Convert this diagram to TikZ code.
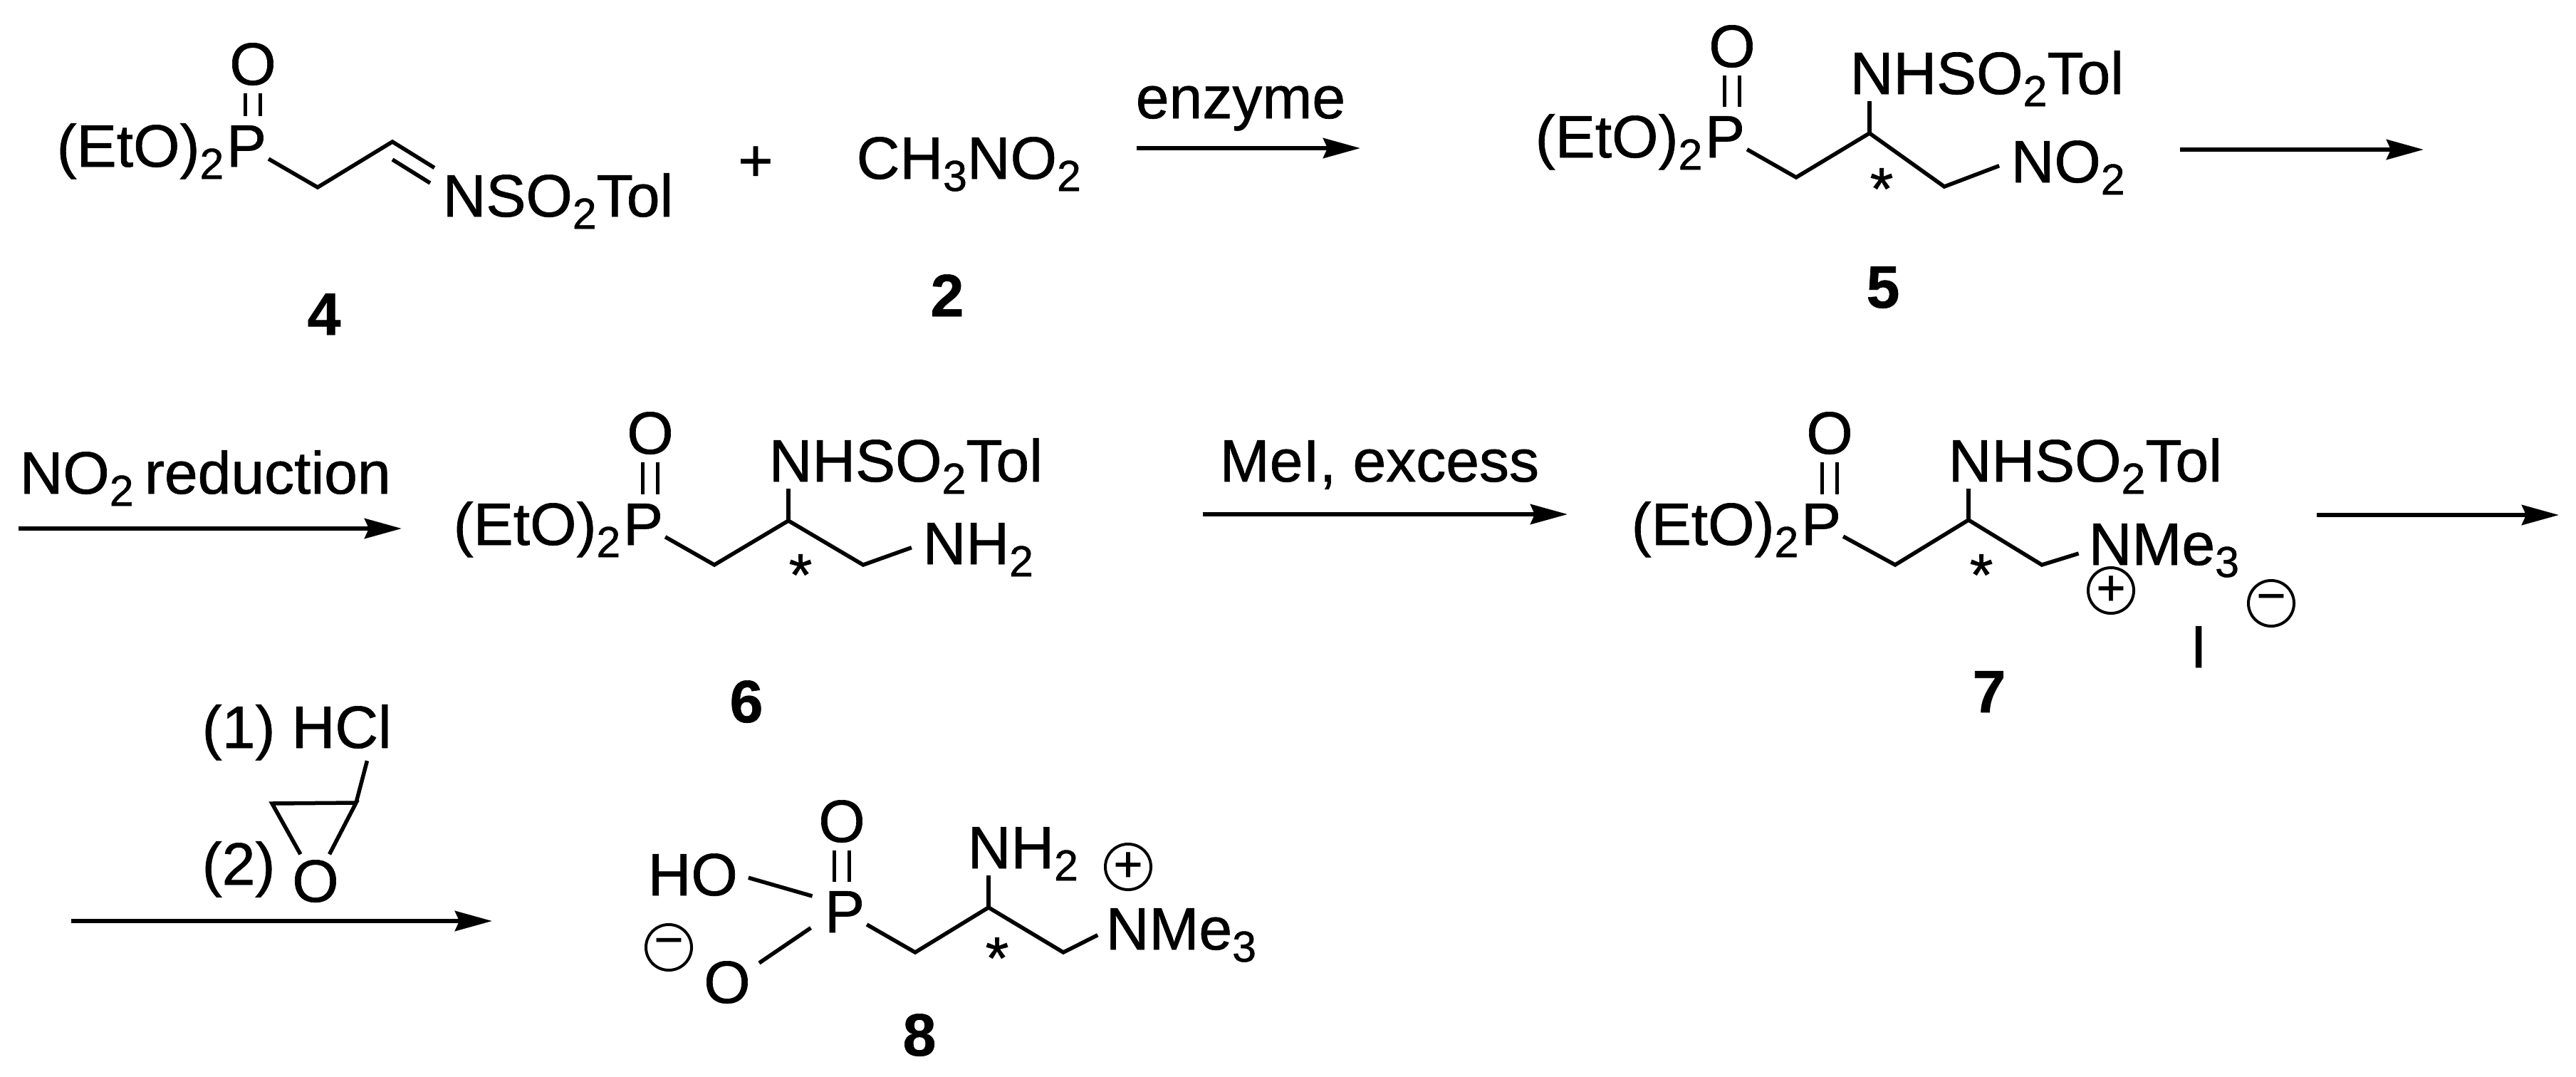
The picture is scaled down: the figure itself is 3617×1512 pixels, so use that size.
\documentclass[tikz,border=0pt]{standalone}
\usepackage{fontspec}
\setmainfont[FakeBold=0.8]{Liberation Sans}
\usetikzlibrary{arrows.meta}
\newcommand{\sbn}[1]{\raisebox{-.17cm}{\fontsize{17.3}{17.3}\selectfont #1}}
\tikzset{
	every node/.style={inner sep=0pt, font=\fontsize{23.9}{28}\selectfont},
	lab/.style={anchor=base west},
	labr/.style={anchor=base east},
	ctr/.style={anchor=base},
	num/.style={anchor=base, font=\fontsize{23.9}{28}\selectfont\bfseries},
	patom/.style={anchor=base west, outer sep=.03cm},
	bond/.style={line width=.055cm},
	dbl/.style={line width=.05cm, double, double distance=.16cm, shorten >=.1cm, shorten <=.1cm},
	rxn/.style={line width=.06cm, -{Stealth[length=.52cm,width=.28cm,inset=.06cm]}},
	chg/.style={draw, circle, line width=.04cm, minimum size=.64cm, font=\fontsize{20}{20}\selectfont}
}
\begin{document}
\begin{tikzpicture}[x=.01cm, y=-.01cm]
	\useasboundingbox (0,0) rectangle (3617,1512);

	\draw (315,234) node[patom] (P4) {P};
	\draw (355,119) node[ctr] (O4) {O};
	\draw (P4.base west) node[labr] (Et4) {(EtO)\sbn{2}};
	\draw (621,304) node[lab] (NS4) {NSO\sbn{2}Tol};
	\draw (446,263) coordinate (c41);
	\draw (551,199) coordinate (c42);
	\draw (551,224) coordinate (c43);
	\draw (604,257) coordinate (c44);
	\draw[dbl] (O4.south) -- (P4.north -| O4.south);
	\draw[bond, shorten >=.13cm] (P4) -- (c41) -- (c42) -- (NS4.north west);
	\draw[bond] (c43) -- (c44);
	\draw (455,470) node[num] (n4) {4};

	\draw (1061,230) node (plus1) {+};
	\draw (1202,251) node[lab] (CH2) {CH\sbn{3}NO\sbn{2}};
	\draw (1330,444) node[num] (n2) {2};

	\draw (1596,208) coordinate (a1s);
	\draw (1910,208) coordinate (a1e);
	\draw[rxn] (a1s) -- (a1e);
	\draw (1742,166) node[ctr] (enz) {enzyme};

	\draw (2391,221) node[patom] (P5) {P};
	\draw (2432,94) node[ctr] (O5) {O};
	\draw (P5.base west) node[labr] (Et5) {(EtO)\sbn{2}};
	\draw (2597,132) node[lab] (NH5) {NHSO\sbn{2}Tol};
	\draw (2823,256) node[lab] (NO5) {NO\sbn{2}};
	\draw (2522,249) coordinate (c51);
	\draw (2625,187) coordinate (c52);
	\draw (2730,262) coordinate (c53);
	\draw[dbl] (O5.south) -- (P5.north -| O5.south);
	\draw[bond, shorten >=.17cm] (P5) -- (c51) -- (c52) -- (c53) -- (NO5.174);
	\draw[bond, shorten >=.1cm] (c52) -- (c52 |- NH5.base);
	\draw (2642,294) node[ctr] (st5) {*};
	\draw (2644,432) node[num] (n5) {5};

	\draw (3061,210) coordinate (a2s);
	\draw (3403,210) coordinate (a2e);
	\draw[rxn] (a2s) -- (a2e);

	\draw (26,742) coordinate (a3s);
	\draw (564,742) coordinate (a3e);
	\draw[rxn] (a3s) -- (a3e);
	\draw (27,693) node[lab] (red) {NO\sbn{2}\hspace{-.08cm} reduction};

	\draw (872,765) node[patom] (P6) {P};
	\draw (913,637) node[ctr] (O6) {O};
	\draw (P6.base west) node[labr] (Et6) {(EtO)\sbn{2}};
	\draw (1079,676) node[lab] (NH6) {NHSO\sbn{2}Tol};
	\draw (1295,792) node[lab] (NA6) {NH\sbn{2}};
	\draw (1003,793) coordinate (c61);
	\draw (1107,731) coordinate (c62);
	\draw (1212,793) coordinate (c63);
	\draw[dbl] (O6.south) -- (P6.north -| O6.south);
	\draw[bond, shorten >=.16cm] (P6) -- (c61) -- (c62) -- (c63) -- (NA6.174);
	\draw[bond, shorten >=.1cm] (c62) -- (c62 |- NH6.base);
	\draw (1124,836) node[ctr] (st6) {*};
	\draw (1048,1014) node[num] (n6) {6};

	\draw (1689,722) coordinate (a4s);
	\draw (2201,722) coordinate (a4e);
	\draw[rxn] (a4s) -- (a4e);
	\draw (1712,676) node[lab] (mei) {MeI, excess};

	\draw (2526,765) node[patom] (P7) {P};
	\draw (2569,637) node[ctr] (O7) {O};
	\draw (P7.base west) node[labr] (Et7) {(EtO)\sbn{2}};
	\draw (2735,676) node[lab] (NH7) {NHSO\sbn{2}Tol};
	\draw (2932,793) node[lab] (NM7) {NMe\sbn{3}};
	\draw (2661,793) coordinate (c71);
	\draw (2764,730) coordinate (c72);
	\draw (2867,793) coordinate (c73);
	\draw[dbl] (O7.south) -- (P7.north -| O7.south);
	\draw[bond, shorten >=.14cm] (P7) -- (c71) -- (c72) -- (c73) -- (NM7.west);
	\draw[bond, shorten >=.1cm] (c72) -- (c72 |- NH7.base);
	\draw (2782,836) node[ctr] (st7) {*};
	\draw (2964,829) node[chg] (pl7) {+};
	\draw (3189,847) node[chg] (mi7) {−};
	\draw (3087,937) node[ctr] (I7) {I};
	\draw (2793,1000) node[num] (n7) {7};

	\draw (3253,723) coordinate (a5s);
	\draw (3593,723) coordinate (a5e);
	\draw[rxn] (a5s) -- (a5e);

	\draw (283,1050) node[lab] (hcl) {(1) HCl};
	\draw (283,1242) node[lab] (two) {(2)};
	\draw (443,1266) node[ctr, outer sep=.08cm] (Oe) {O};
	\draw (382,1128) coordinate (e1);
	\draw (500,1127) coordinate (e2);
	\draw[bond] (Oe) -- (e1) -- (e2) -- (Oe);
	\draw[bond] (e2) -- (hcl.338);

	\draw (100,1293) coordinate (a6s);
	\draw (691,1293) coordinate (a6e);
	\draw[rxn] (a6s) -- (a6e);

	\draw (1155,1309) node[patom] (P8) {P};
	\draw (1182,1182) node[ctr] (O8) {O};
	\draw (1021,1408) node[ctr] (Om8) {O};
	\draw (909,1257) node[lab] (HO8) {HO};
	\draw (1358,1219) node[lab] (NA8) {NH\sbn{2}};
	\draw (1552,1333) node[lab] (NM8) {NMe\sbn{3}};
	\draw (1285,1337) coordinate (c81);
	\draw (1388,1274) coordinate (c82);
	\draw (1493,1337) coordinate (c83);
	\draw[dbl] (O8.south) -- (P8.north -| O8.south);
	\draw[bond, shorten <=.15cm, shorten >=.15cm] (HO8.east) -- (P8.150);
	\draw[bond, shorten <=.2cm, shorten >=.14cm] (P8.200) -- (Om8.30);
	\draw[bond, shorten >=.12cm] (P8) -- (c81) -- (c82) -- (c83) -- (NM8.177);
	\draw[bond, shorten >=.1cm] (c82) -- (c82 |- NA8.base);
	\draw (1400,1374) node[ctr] (st8) {*};
	\draw (1584,1217) node[chg] (pl8) {+};
	\draw (939,1330) node[chg] (mi8) {−};
	\draw (1291,1482) node[num] (n8) {8};
\end{tikzpicture}
\end{document}
